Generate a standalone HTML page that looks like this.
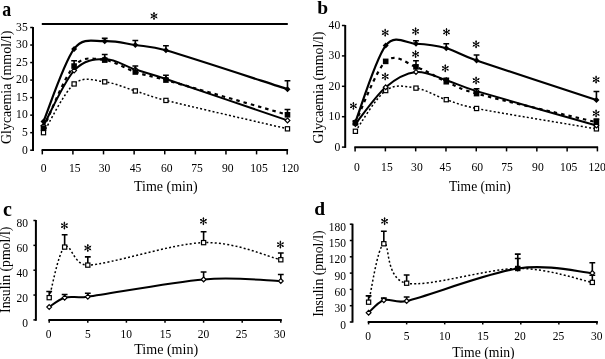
<!DOCTYPE html>
<html><head><meta charset="utf-8"><style>
html,body{margin:0;padding:0;background:#fff;overflow:hidden;}
svg{display:block;will-change:transform;filter:blur(0.3px);}
text{font-family:"Liberation Serif", serif;fill:#000;}
</style></head><body>
<svg width="605" height="359" viewBox="0 0 605 359">
<rect width="605" height="359" fill="#fff"/>
<path d="M33.00,27.10 L33.00,151.00" stroke="#000" stroke-width="2.0" fill="none"/>
<path d="M30.20,150.20 L33.00,150.20" stroke="#000" stroke-width="1.5" fill="none"/>
<text transform="translate(27.70,153.50) scale(1,1.03)" font-size="11.6" text-anchor="end">0</text>
<path d="M30.20,132.67 L33.00,132.67" stroke="#000" stroke-width="1.5" fill="none"/>
<text transform="translate(27.70,135.97) scale(1,1.03)" font-size="11.6" text-anchor="end">5</text>
<path d="M30.20,115.14 L33.00,115.14" stroke="#000" stroke-width="1.5" fill="none"/>
<text transform="translate(27.70,118.44) scale(1,1.03)" font-size="11.6" text-anchor="end">10</text>
<path d="M30.20,97.61 L33.00,97.61" stroke="#000" stroke-width="1.5" fill="none"/>
<text transform="translate(27.70,100.91) scale(1,1.03)" font-size="11.6" text-anchor="end">15</text>
<path d="M30.20,80.09 L33.00,80.09" stroke="#000" stroke-width="1.5" fill="none"/>
<text transform="translate(27.70,83.39) scale(1,1.03)" font-size="11.6" text-anchor="end">20</text>
<path d="M30.20,62.56 L33.00,62.56" stroke="#000" stroke-width="1.5" fill="none"/>
<text transform="translate(27.70,65.86) scale(1,1.03)" font-size="11.6" text-anchor="end">25</text>
<path d="M30.20,45.03 L33.00,45.03" stroke="#000" stroke-width="1.5" fill="none"/>
<text transform="translate(27.70,48.33) scale(1,1.03)" font-size="11.6" text-anchor="end">30</text>
<path d="M30.20,27.50 L33.00,27.50" stroke="#000" stroke-width="1.5" fill="none"/>
<text transform="translate(27.70,30.80) scale(1,1.03)" font-size="11.6" text-anchor="end">35</text>
<path d="M41.60,150.10 L288.10,150.10" stroke="#000" stroke-width="2.0" fill="none"/>
<path d="M42.30,150.10 L42.30,154.40" stroke="#000" stroke-width="1.5" fill="none"/>
<text transform="translate(43.70,171.90) scale(1,1.03)" font-size="11.6" text-anchor="middle">0</text>
<path d="M72.91,150.10 L72.91,154.40" stroke="#000" stroke-width="1.5" fill="none"/>
<text transform="translate(74.70,171.90) scale(1,1.03)" font-size="11.6" text-anchor="middle">15</text>
<path d="M103.52,150.10 L103.52,154.40" stroke="#000" stroke-width="1.5" fill="none"/>
<text transform="translate(104.60,171.90) scale(1,1.03)" font-size="11.6" text-anchor="middle">30</text>
<path d="M134.13,150.10 L134.13,154.40" stroke="#000" stroke-width="1.5" fill="none"/>
<text transform="translate(135.50,171.90) scale(1,1.03)" font-size="11.6" text-anchor="middle">45</text>
<path d="M164.74,150.10 L164.74,154.40" stroke="#000" stroke-width="1.5" fill="none"/>
<text transform="translate(166.80,171.90) scale(1,1.03)" font-size="11.6" text-anchor="middle">60</text>
<path d="M195.35,150.10 L195.35,154.40" stroke="#000" stroke-width="1.5" fill="none"/>
<text transform="translate(197.00,171.90) scale(1,1.03)" font-size="11.6" text-anchor="middle">75</text>
<path d="M225.96,150.10 L225.96,154.40" stroke="#000" stroke-width="1.5" fill="none"/>
<text transform="translate(227.80,171.90) scale(1,1.03)" font-size="11.6" text-anchor="middle">90</text>
<path d="M256.57,150.10 L256.57,154.40" stroke="#000" stroke-width="1.5" fill="none"/>
<text transform="translate(259.00,171.90) scale(1,1.03)" font-size="11.6" text-anchor="middle">105</text>
<path d="M287.18,150.10 L287.18,154.40" stroke="#000" stroke-width="1.5" fill="none"/>
<text transform="translate(290.30,171.90) scale(1,1.03)" font-size="11.6" text-anchor="middle">120</text>
<text x="134.02" y="191.20" font-size="13.97" text-anchor="start">Time (min)</text>
<text transform="translate(11.10,87.30) rotate(-90) scale(1,1.06)" font-size="13.95" text-anchor="middle">Glycaemia (mmol/l)</text>
<text transform="translate(2.3,15.9) scale(0.92,1.1)" font-size="19.5" font-weight="bold">a</text>
<path d="M41.80,23.90 L287.80,23.90" stroke="#000" stroke-width="2.0" fill="none"/>
<path d="M154.00,16.00 L154.00,12.50 M154.00,16.00 L157.03,14.25 M154.00,16.00 L157.03,17.75 M154.00,16.00 L154.00,19.50 M154.00,16.00 L150.97,14.25 M154.00,16.00 L150.97,17.75" stroke="#000" stroke-width="0.9" fill="none" stroke-linecap="round"/>
<circle cx="154.00" cy="13.40" r="0.85" fill="#000"/>
<circle cx="156.25" cy="14.70" r="0.85" fill="#000"/>
<circle cx="156.25" cy="17.30" r="0.85" fill="#000"/>
<circle cx="154.00" cy="18.60" r="0.85" fill="#000"/>
<circle cx="151.75" cy="14.70" r="0.85" fill="#000"/>
<circle cx="151.75" cy="17.30" r="0.85" fill="#000"/>
<path d="M43.50,132.67 C48.60,124.55 63.91,92.41 74.11,83.94 C84.31,75.47 94.52,80.67 104.72,81.84 C114.92,83.01 125.13,87.86 135.33,90.95 C145.53,94.05 150.39,96.55 165.94,100.42 C191.30,106.73 267.22,124.08 287.48,128.82" stroke="#000" stroke-width="1.5" fill="none" stroke-dasharray="2,2.2"/>
<path d="M43.50,125.66 C48.60,116.49 63.91,81.72 74.11,70.62 C84.31,59.52 94.52,59.23 104.72,59.05 C114.92,58.88 125.13,66.24 135.33,69.57 C145.53,72.90 150.75,73.96 165.94,79.03 C191.30,87.51 267.22,113.51 287.48,120.40" stroke="#000" stroke-width="2.0" fill="none"/>
<path d="M43.50,128.11 C48.60,117.77 63.91,77.40 74.11,66.06 C84.31,54.73 94.52,59.11 104.72,60.10 C114.92,61.10 125.13,68.69 135.33,72.02 C145.53,75.35 150.70,75.80 165.94,80.09 C191.30,87.21 267.22,109.01 287.48,114.79" stroke="#000" stroke-width="2.2" fill="none" stroke-dasharray="3.5,4"/>
<path d="M43.50,121.45 C48.60,109.36 63.91,62.27 74.11,48.88 C83.68,36.33 94.52,41.81 104.72,41.17 C114.92,40.53 125.13,43.51 135.33,45.03 C145.53,46.55 151.03,45.96 165.94,50.29 C191.30,57.65 267.22,82.72 287.48,89.20" stroke="#000" stroke-width="2.2" fill="none"/>
<rect x="41.40" y="130.57" width="4.20" height="4.20" fill="#fff" stroke="#000" stroke-width="1.2"/>
<rect x="72.01" y="81.84" width="4.20" height="4.20" fill="#fff" stroke="#000" stroke-width="1.2"/>
<rect x="102.62" y="79.74" width="4.20" height="4.20" fill="#fff" stroke="#000" stroke-width="1.2"/>
<rect x="133.23" y="88.85" width="4.20" height="4.20" fill="#fff" stroke="#000" stroke-width="1.2"/>
<rect x="163.84" y="98.32" width="4.20" height="4.20" fill="#fff" stroke="#000" stroke-width="1.2"/>
<rect x="285.38" y="126.72" width="4.20" height="4.20" fill="#fff" stroke="#000" stroke-width="1.2"/>
<path d="M43.50,123.26 L45.90,125.66 L43.50,128.06 L41.10,125.66Z" fill="#fff" stroke="#000" stroke-width="1.2"/>
<path d="M74.11,68.22 L76.51,70.62 L74.11,73.02 L71.71,70.62Z" fill="#fff" stroke="#000" stroke-width="1.2"/>
<path d="M104.72,56.65 L107.12,59.05 L104.72,61.45 L102.32,59.05Z" fill="#fff" stroke="#000" stroke-width="1.2"/>
<path d="M135.33,67.17 L137.73,69.57 L135.33,71.97 L132.93,69.57Z" fill="#fff" stroke="#000" stroke-width="1.2"/>
<path d="M165.94,76.63 L168.34,79.03 L165.94,81.43 L163.54,79.03Z" fill="#fff" stroke="#000" stroke-width="1.2"/>
<path d="M287.48,118.00 L289.88,120.40 L287.48,122.80 L285.08,120.40Z" fill="#fff" stroke="#000" stroke-width="1.2"/>
<rect x="40.70" y="125.31" width="5.60" height="5.60" fill="#000"/>
<path d="M74.11,66.06 L74.11,60.80 M71.21,60.80 L77.01,60.80" stroke="#000" stroke-width="1.6" fill="none"/>
<rect x="71.31" y="63.26" width="5.60" height="5.60" fill="#000"/>
<path d="M104.72,60.10 L104.72,54.49 M101.82,54.49 L107.62,54.49" stroke="#000" stroke-width="1.6" fill="none"/>
<rect x="101.92" y="57.30" width="5.60" height="5.60" fill="#000"/>
<path d="M135.33,72.02 L135.33,66.06 M132.43,66.06 L138.23,66.06" stroke="#000" stroke-width="1.6" fill="none"/>
<rect x="132.53" y="69.22" width="5.60" height="5.60" fill="#000"/>
<path d="M165.94,80.09 L165.94,75.18 M163.04,75.18 L168.84,75.18" stroke="#000" stroke-width="1.6" fill="none"/>
<rect x="163.14" y="77.29" width="5.60" height="5.60" fill="#000"/>
<path d="M287.48,114.79 L287.48,109.53 M284.58,109.53 L290.38,109.53" stroke="#000" stroke-width="1.6" fill="none"/>
<rect x="284.68" y="111.99" width="5.60" height="5.60" fill="#000"/>
<path d="M43.50,118.45 L46.50,121.45 L43.50,124.45 L40.50,121.45Z" fill="#000"/>
<path d="M74.11,45.88 L77.11,48.88 L74.11,51.88 L71.11,48.88Z" fill="#000"/>
<path d="M104.72,41.17 L104.72,38.37 M101.82,38.37 L107.62,38.37" stroke="#000" stroke-width="1.6" fill="none"/>
<path d="M104.72,38.17 L107.72,41.17 L104.72,44.17 L101.72,41.17Z" fill="#000"/>
<path d="M135.33,45.03 L135.33,40.47 M132.43,40.47 L138.23,40.47" stroke="#000" stroke-width="1.6" fill="none"/>
<path d="M135.33,42.03 L138.33,45.03 L135.33,48.03 L132.33,45.03Z" fill="#000"/>
<path d="M165.94,50.29 L165.94,45.73 M163.04,45.73 L168.84,45.73" stroke="#000" stroke-width="1.6" fill="none"/>
<path d="M165.94,47.29 L168.94,50.29 L165.94,53.29 L162.94,50.29Z" fill="#000"/>
<path d="M287.48,89.20 L287.48,80.79 M284.58,80.79 L290.38,80.79" stroke="#000" stroke-width="1.6" fill="none"/>
<path d="M287.48,86.20 L290.48,89.20 L287.48,92.20 L284.48,89.20Z" fill="#000"/>
<path d="M345.20,25.00 L345.20,147.90" stroke="#000" stroke-width="2.0" fill="none"/>
<path d="M341.90,147.10 L345.20,147.10" stroke="#000" stroke-width="1.5" fill="none"/>
<text transform="translate(340.20,150.50) scale(1,1.03)" font-size="11.6" text-anchor="end">0</text>
<path d="M341.90,116.70 L345.20,116.70" stroke="#000" stroke-width="1.5" fill="none"/>
<text transform="translate(340.20,120.10) scale(1,1.03)" font-size="11.6" text-anchor="end">10</text>
<path d="M341.90,86.30 L345.20,86.30" stroke="#000" stroke-width="1.5" fill="none"/>
<text transform="translate(340.20,89.70) scale(1,1.03)" font-size="11.6" text-anchor="end">20</text>
<path d="M341.90,55.90 L345.20,55.90" stroke="#000" stroke-width="1.5" fill="none"/>
<text transform="translate(340.20,59.30) scale(1,1.03)" font-size="11.6" text-anchor="end">30</text>
<path d="M341.90,25.50 L345.20,25.50" stroke="#000" stroke-width="1.5" fill="none"/>
<text transform="translate(340.20,28.90) scale(1,1.03)" font-size="11.6" text-anchor="end">40</text>
<path d="M354.30,147.30 L598.10,147.30" stroke="#000" stroke-width="2.0" fill="none"/>
<path d="M355.10,147.30 L355.10,151.40" stroke="#000" stroke-width="1.5" fill="none"/>
<text transform="translate(356.80,170.80) scale(1,1.03)" font-size="11.6" text-anchor="middle">0</text>
<path d="M385.39,147.30 L385.39,151.40" stroke="#000" stroke-width="1.5" fill="none"/>
<text transform="translate(386.90,170.80) scale(1,1.03)" font-size="11.6" text-anchor="middle">15</text>
<path d="M415.68,147.30 L415.68,151.40" stroke="#000" stroke-width="1.5" fill="none"/>
<text transform="translate(416.90,170.80) scale(1,1.03)" font-size="11.6" text-anchor="middle">30</text>
<path d="M445.97,147.30 L445.97,151.40" stroke="#000" stroke-width="1.5" fill="none"/>
<text transform="translate(445.40,170.80) scale(1,1.03)" font-size="11.6" text-anchor="middle">45</text>
<path d="M476.26,147.30 L476.26,151.40" stroke="#000" stroke-width="1.5" fill="none"/>
<text transform="translate(477.30,170.80) scale(1,1.03)" font-size="11.6" text-anchor="middle">60</text>
<path d="M506.55,147.30 L506.55,151.40" stroke="#000" stroke-width="1.5" fill="none"/>
<text transform="translate(507.00,170.80) scale(1,1.03)" font-size="11.6" text-anchor="middle">75</text>
<path d="M536.84,147.30 L536.84,151.40" stroke="#000" stroke-width="1.5" fill="none"/>
<text transform="translate(537.90,170.80) scale(1,1.03)" font-size="11.6" text-anchor="middle">90</text>
<path d="M567.13,147.30 L567.13,151.40" stroke="#000" stroke-width="1.5" fill="none"/>
<text transform="translate(568.60,170.80) scale(1,1.03)" font-size="11.6" text-anchor="middle">105</text>
<path d="M597.42,147.30 L597.42,151.40" stroke="#000" stroke-width="1.5" fill="none"/>
<text transform="translate(597.10,170.80) scale(1,1.03)" font-size="11.6" text-anchor="middle">120</text>
<text x="449.03" y="191.10" font-size="13.57" text-anchor="start">Time (min)</text>
<text transform="translate(323.40,87.55) rotate(-90) scale(1,1.06)" font-size="13.78" text-anchor="middle">Glycaemia (mmol/l)</text>
<text x="317.31" y="13.60" font-size="19.5" text-anchor="start" font-weight="bold">b</text>
<path d="M355.40,131.29 C360.45,124.50 375.59,97.75 385.69,90.56 C395.79,83.36 405.88,86.60 415.98,88.12 C426.08,89.64 436.17,96.28 446.27,99.68 C456.37,103.07 461.08,105.48 476.56,108.49 C501.59,113.36 576.44,125.47 596.42,128.86" stroke="#000" stroke-width="1.5" fill="none" stroke-dasharray="2,2.2"/>
<path d="M355.40,124.00 C360.45,117.87 375.59,95.88 385.69,87.21 C395.79,78.55 405.88,73.18 415.98,72.01 C426.08,70.85 436.17,77.03 446.27,80.22 C456.37,83.41 461.14,86.51 476.56,91.16 C501.59,98.71 576.44,119.79 596.42,125.52" stroke="#000" stroke-width="2.0" fill="none"/>
<path d="M355.40,122.78 C360.45,112.55 375.59,70.69 385.69,61.37 C395.79,52.05 405.88,63.45 415.98,66.84 C426.08,70.24 436.17,77.28 446.27,81.74 C456.37,86.20 460.86,89.37 476.56,93.60 C501.59,100.33 576.44,117.41 596.42,122.17" stroke="#000" stroke-width="2.2" fill="none" stroke-dasharray="3.5,4"/>
<path d="M355.40,121.87 C360.45,109.15 375.59,58.59 385.69,45.56 C394.99,33.57 405.88,43.28 415.98,43.74 C426.08,44.20 436.17,45.51 446.27,48.30 C456.37,51.09 461.13,55.15 476.56,60.46 C501.59,69.07 576.44,93.39 596.42,99.98" stroke="#000" stroke-width="2.2" fill="none"/>
<rect x="353.30" y="129.19" width="4.20" height="4.20" fill="#fff" stroke="#000" stroke-width="1.2"/>
<rect x="383.59" y="88.46" width="4.20" height="4.20" fill="#fff" stroke="#000" stroke-width="1.2"/>
<rect x="413.88" y="86.02" width="4.20" height="4.20" fill="#fff" stroke="#000" stroke-width="1.2"/>
<rect x="444.17" y="97.58" width="4.20" height="4.20" fill="#fff" stroke="#000" stroke-width="1.2"/>
<rect x="474.46" y="106.39" width="4.20" height="4.20" fill="#fff" stroke="#000" stroke-width="1.2"/>
<rect x="594.32" y="126.76" width="4.20" height="4.20" fill="#fff" stroke="#000" stroke-width="1.2"/>
<path d="M355.40,121.60 L357.80,124.00 L355.40,126.40 L353.00,124.00Z" fill="#fff" stroke="#000" stroke-width="1.2"/>
<path d="M385.69,84.81 L388.09,87.21 L385.69,89.61 L383.29,87.21Z" fill="#fff" stroke="#000" stroke-width="1.2"/>
<path d="M415.98,69.61 L418.38,72.01 L415.98,74.41 L413.58,72.01Z" fill="#fff" stroke="#000" stroke-width="1.2"/>
<path d="M446.27,77.82 L448.67,80.22 L446.27,82.62 L443.87,80.22Z" fill="#fff" stroke="#000" stroke-width="1.2"/>
<path d="M476.56,88.76 L478.96,91.16 L476.56,93.56 L474.16,91.16Z" fill="#fff" stroke="#000" stroke-width="1.2"/>
<path d="M596.42,123.12 L598.82,125.52 L596.42,127.92 L594.02,125.52Z" fill="#fff" stroke="#000" stroke-width="1.2"/>
<rect x="352.60" y="119.98" width="5.60" height="5.60" fill="#000"/>
<rect x="382.89" y="58.57" width="5.60" height="5.60" fill="#000"/>
<path d="M415.98,66.84 L415.98,60.76 M413.08,60.76 L418.88,60.76" stroke="#000" stroke-width="1.6" fill="none"/>
<rect x="413.18" y="64.04" width="5.60" height="5.60" fill="#000"/>
<path d="M446.27,81.74 L446.27,78.40 M443.37,78.40 L449.17,78.40" stroke="#000" stroke-width="1.6" fill="none"/>
<rect x="443.47" y="78.94" width="5.60" height="5.60" fill="#000"/>
<path d="M476.56,93.60 L476.56,88.73 M473.66,88.73 L479.46,88.73" stroke="#000" stroke-width="1.6" fill="none"/>
<rect x="473.76" y="90.80" width="5.60" height="5.60" fill="#000"/>
<path d="M596.42,122.17 L596.42,119.13 M593.52,119.13 L599.32,119.13" stroke="#000" stroke-width="1.6" fill="none"/>
<rect x="593.62" y="119.37" width="5.60" height="5.60" fill="#000"/>
<path d="M355.40,118.87 L358.40,121.87 L355.40,124.87 L352.40,121.87Z" fill="#000"/>
<path d="M385.69,42.56 L388.69,45.56 L385.69,48.56 L382.69,45.56Z" fill="#000"/>
<path d="M415.98,43.74 L415.98,40.70 M413.08,40.70 L418.88,40.70" stroke="#000" stroke-width="1.6" fill="none"/>
<path d="M415.98,40.74 L418.98,43.74 L415.98,46.74 L412.98,43.74Z" fill="#000"/>
<path d="M446.27,48.30 L446.27,43.74 M443.37,43.74 L449.17,43.74" stroke="#000" stroke-width="1.6" fill="none"/>
<path d="M446.27,45.30 L449.27,48.30 L446.27,51.30 L443.27,48.30Z" fill="#000"/>
<path d="M476.56,60.46 L476.56,54.99 M473.66,54.99 L479.46,54.99" stroke="#000" stroke-width="1.6" fill="none"/>
<path d="M476.56,57.46 L479.56,60.46 L476.56,63.46 L473.56,60.46Z" fill="#000"/>
<path d="M596.42,99.98 L596.42,91.47 M593.52,91.47 L599.32,91.47" stroke="#000" stroke-width="1.6" fill="none"/>
<path d="M596.42,96.98 L599.42,99.98 L596.42,102.98 L593.42,99.98Z" fill="#000"/>
<path d="M353.40,105.90 L353.40,102.40 M353.40,105.90 L356.43,104.15 M353.40,105.90 L356.43,107.65 M353.40,105.90 L353.40,109.40 M353.40,105.90 L350.37,104.15 M353.40,105.90 L350.37,107.65" stroke="#000" stroke-width="0.9" fill="none" stroke-linecap="round"/>
<circle cx="353.40" cy="103.30" r="0.85" fill="#000"/>
<circle cx="355.65" cy="104.60" r="0.85" fill="#000"/>
<circle cx="355.65" cy="107.20" r="0.85" fill="#000"/>
<circle cx="353.40" cy="108.50" r="0.85" fill="#000"/>
<circle cx="351.15" cy="104.60" r="0.85" fill="#000"/>
<circle cx="351.15" cy="107.20" r="0.85" fill="#000"/>
<path d="M385.20,32.70 L385.20,29.20 M385.20,32.70 L388.23,30.95 M385.20,32.70 L388.23,34.45 M385.20,32.70 L385.20,36.20 M385.20,32.70 L382.17,30.95 M385.20,32.70 L382.17,34.45" stroke="#000" stroke-width="0.9" fill="none" stroke-linecap="round"/>
<circle cx="385.20" cy="30.10" r="0.85" fill="#000"/>
<circle cx="387.45" cy="31.40" r="0.85" fill="#000"/>
<circle cx="387.45" cy="34.00" r="0.85" fill="#000"/>
<circle cx="385.20" cy="35.30" r="0.85" fill="#000"/>
<circle cx="382.95" cy="31.40" r="0.85" fill="#000"/>
<circle cx="382.95" cy="34.00" r="0.85" fill="#000"/>
<path d="M385.20,76.50 L385.20,73.00 M385.20,76.50 L388.23,74.75 M385.20,76.50 L388.23,78.25 M385.20,76.50 L385.20,80.00 M385.20,76.50 L382.17,74.75 M385.20,76.50 L382.17,78.25" stroke="#000" stroke-width="0.9" fill="none" stroke-linecap="round"/>
<circle cx="385.20" cy="73.90" r="0.85" fill="#000"/>
<circle cx="387.45" cy="75.20" r="0.85" fill="#000"/>
<circle cx="387.45" cy="77.80" r="0.85" fill="#000"/>
<circle cx="385.20" cy="79.10" r="0.85" fill="#000"/>
<circle cx="382.95" cy="75.20" r="0.85" fill="#000"/>
<circle cx="382.95" cy="77.80" r="0.85" fill="#000"/>
<path d="M415.60,31.30 L415.60,27.80 M415.60,31.30 L418.63,29.55 M415.60,31.30 L418.63,33.05 M415.60,31.30 L415.60,34.80 M415.60,31.30 L412.57,29.55 M415.60,31.30 L412.57,33.05" stroke="#000" stroke-width="0.9" fill="none" stroke-linecap="round"/>
<circle cx="415.60" cy="28.70" r="0.85" fill="#000"/>
<circle cx="417.85" cy="30.00" r="0.85" fill="#000"/>
<circle cx="417.85" cy="32.60" r="0.85" fill="#000"/>
<circle cx="415.60" cy="33.90" r="0.85" fill="#000"/>
<circle cx="413.35" cy="30.00" r="0.85" fill="#000"/>
<circle cx="413.35" cy="32.60" r="0.85" fill="#000"/>
<path d="M415.60,54.10 L415.60,50.60 M415.60,54.10 L418.63,52.35 M415.60,54.10 L418.63,55.85 M415.60,54.10 L415.60,57.60 M415.60,54.10 L412.57,52.35 M415.60,54.10 L412.57,55.85" stroke="#000" stroke-width="0.9" fill="none" stroke-linecap="round"/>
<circle cx="415.60" cy="51.50" r="0.85" fill="#000"/>
<circle cx="417.85" cy="52.80" r="0.85" fill="#000"/>
<circle cx="417.85" cy="55.40" r="0.85" fill="#000"/>
<circle cx="415.60" cy="56.70" r="0.85" fill="#000"/>
<circle cx="413.35" cy="52.80" r="0.85" fill="#000"/>
<circle cx="413.35" cy="55.40" r="0.85" fill="#000"/>
<path d="M446.50,32.00 L446.50,28.50 M446.50,32.00 L449.53,30.25 M446.50,32.00 L449.53,33.75 M446.50,32.00 L446.50,35.50 M446.50,32.00 L443.47,30.25 M446.50,32.00 L443.47,33.75" stroke="#000" stroke-width="0.9" fill="none" stroke-linecap="round"/>
<circle cx="446.50" cy="29.40" r="0.85" fill="#000"/>
<circle cx="448.75" cy="30.70" r="0.85" fill="#000"/>
<circle cx="448.75" cy="33.30" r="0.85" fill="#000"/>
<circle cx="446.50" cy="34.60" r="0.85" fill="#000"/>
<circle cx="444.25" cy="30.70" r="0.85" fill="#000"/>
<circle cx="444.25" cy="33.30" r="0.85" fill="#000"/>
<path d="M445.30,68.30 L445.30,64.80 M445.30,68.30 L448.33,66.55 M445.30,68.30 L448.33,70.05 M445.30,68.30 L445.30,71.80 M445.30,68.30 L442.27,66.55 M445.30,68.30 L442.27,70.05" stroke="#000" stroke-width="0.9" fill="none" stroke-linecap="round"/>
<circle cx="445.30" cy="65.70" r="0.85" fill="#000"/>
<circle cx="447.55" cy="67.00" r="0.85" fill="#000"/>
<circle cx="447.55" cy="69.60" r="0.85" fill="#000"/>
<circle cx="445.30" cy="70.90" r="0.85" fill="#000"/>
<circle cx="443.05" cy="67.00" r="0.85" fill="#000"/>
<circle cx="443.05" cy="69.60" r="0.85" fill="#000"/>
<path d="M476.10,44.30 L476.10,40.80 M476.10,44.30 L479.13,42.55 M476.10,44.30 L479.13,46.05 M476.10,44.30 L476.10,47.80 M476.10,44.30 L473.07,42.55 M476.10,44.30 L473.07,46.05" stroke="#000" stroke-width="0.9" fill="none" stroke-linecap="round"/>
<circle cx="476.10" cy="41.70" r="0.85" fill="#000"/>
<circle cx="478.35" cy="43.00" r="0.85" fill="#000"/>
<circle cx="478.35" cy="45.60" r="0.85" fill="#000"/>
<circle cx="476.10" cy="46.90" r="0.85" fill="#000"/>
<circle cx="473.85" cy="43.00" r="0.85" fill="#000"/>
<circle cx="473.85" cy="45.60" r="0.85" fill="#000"/>
<path d="M476.10,80.50 L476.10,77.00 M476.10,80.50 L479.13,78.75 M476.10,80.50 L479.13,82.25 M476.10,80.50 L476.10,84.00 M476.10,80.50 L473.07,78.75 M476.10,80.50 L473.07,82.25" stroke="#000" stroke-width="0.9" fill="none" stroke-linecap="round"/>
<circle cx="476.10" cy="77.90" r="0.85" fill="#000"/>
<circle cx="478.35" cy="79.20" r="0.85" fill="#000"/>
<circle cx="478.35" cy="81.80" r="0.85" fill="#000"/>
<circle cx="476.10" cy="83.10" r="0.85" fill="#000"/>
<circle cx="473.85" cy="79.20" r="0.85" fill="#000"/>
<circle cx="473.85" cy="81.80" r="0.85" fill="#000"/>
<path d="M596.10,79.60 L596.10,76.10 M596.10,79.60 L599.13,77.85 M596.10,79.60 L599.13,81.35 M596.10,79.60 L596.10,83.10 M596.10,79.60 L593.07,77.85 M596.10,79.60 L593.07,81.35" stroke="#000" stroke-width="0.9" fill="none" stroke-linecap="round"/>
<circle cx="596.10" cy="77.00" r="0.85" fill="#000"/>
<circle cx="598.35" cy="78.30" r="0.85" fill="#000"/>
<circle cx="598.35" cy="80.90" r="0.85" fill="#000"/>
<circle cx="596.10" cy="82.20" r="0.85" fill="#000"/>
<circle cx="593.85" cy="78.30" r="0.85" fill="#000"/>
<circle cx="593.85" cy="80.90" r="0.85" fill="#000"/>
<path d="M596.10,113.40 L596.10,109.90 M596.10,113.40 L599.13,111.65 M596.10,113.40 L599.13,115.15 M596.10,113.40 L596.10,116.90 M596.10,113.40 L593.07,111.65 M596.10,113.40 L593.07,115.15" stroke="#000" stroke-width="0.9" fill="none" stroke-linecap="round"/>
<circle cx="596.10" cy="110.80" r="0.85" fill="#000"/>
<circle cx="598.35" cy="112.10" r="0.85" fill="#000"/>
<circle cx="598.35" cy="114.70" r="0.85" fill="#000"/>
<circle cx="596.10" cy="116.00" r="0.85" fill="#000"/>
<circle cx="593.85" cy="112.10" r="0.85" fill="#000"/>
<circle cx="593.85" cy="114.70" r="0.85" fill="#000"/>
<path d="M35.90,220.00 L35.90,320.80" stroke="#000" stroke-width="2.0" fill="none"/>
<path d="M33.40,319.90 L35.90,319.90" stroke="#000" stroke-width="1.5" fill="none"/>
<text transform="translate(28.05,326.50) scale(1,1.06)" font-size="11.5" text-anchor="end">0</text>
<path d="M33.40,295.05 L35.90,295.05" stroke="#000" stroke-width="1.5" fill="none"/>
<text transform="translate(28.05,301.50) scale(1,1.06)" font-size="11.5" text-anchor="end">20</text>
<path d="M33.40,270.20 L35.90,270.20" stroke="#000" stroke-width="1.5" fill="none"/>
<text transform="translate(28.05,276.50) scale(1,1.06)" font-size="11.5" text-anchor="end">40</text>
<path d="M33.40,245.35 L35.90,245.35" stroke="#000" stroke-width="1.5" fill="none"/>
<text transform="translate(28.05,251.50) scale(1,1.06)" font-size="11.5" text-anchor="end">60</text>
<path d="M33.40,220.50 L35.90,220.50" stroke="#000" stroke-width="1.5" fill="none"/>
<text transform="translate(28.05,226.50) scale(1,1.06)" font-size="11.5" text-anchor="end">80</text>
<path d="M48.40,320.00 L281.80,320.00" stroke="#000" stroke-width="2.0" fill="none"/>
<path d="M49.20,320.00 L49.20,322.70" stroke="#000" stroke-width="1.5" fill="none"/>
<text transform="translate(48.70,337.80) scale(1,1.06)" font-size="11.5" text-anchor="middle">0</text>
<path d="M87.80,320.00 L87.80,322.70" stroke="#000" stroke-width="1.5" fill="none"/>
<text transform="translate(87.80,337.80) scale(1,1.06)" font-size="11.5" text-anchor="middle">5</text>
<path d="M126.40,320.00 L126.40,322.70" stroke="#000" stroke-width="1.5" fill="none"/>
<text transform="translate(126.20,337.80) scale(1,1.06)" font-size="11.5" text-anchor="middle">10</text>
<path d="M165.00,320.00 L165.00,322.70" stroke="#000" stroke-width="1.5" fill="none"/>
<text transform="translate(165.40,337.80) scale(1,1.06)" font-size="11.5" text-anchor="middle">15</text>
<path d="M203.60,320.00 L203.60,322.70" stroke="#000" stroke-width="1.5" fill="none"/>
<text transform="translate(203.50,337.80) scale(1,1.06)" font-size="11.5" text-anchor="middle">20</text>
<path d="M242.20,320.00 L242.20,322.70" stroke="#000" stroke-width="1.5" fill="none"/>
<text transform="translate(241.40,337.80) scale(1,1.06)" font-size="11.5" text-anchor="middle">25</text>
<path d="M280.80,320.00 L280.80,322.70" stroke="#000" stroke-width="1.5" fill="none"/>
<text transform="translate(279.80,337.80) scale(1,1.06)" font-size="11.5" text-anchor="middle">30</text>
<text x="134.22" y="354.00" font-size="14.06" text-anchor="start">Time (min)</text>
<text transform="translate(9.50,269.75) rotate(-90) scale(1,1.04)" font-size="13.7" text-anchor="middle">Insulin (pmol/l)</text>
<text x="3.10" y="216.00" font-size="20" text-anchor="start" font-weight="bold">c</text>
<path d="M49.20,297.66 C51.77,289.23 58.21,252.52 64.64,247.09 C71.07,241.66 73.14,265.58 87.80,265.11 C110.96,264.36 171.43,243.51 203.60,242.62 C235.77,241.73 267.93,256.91 280.80,259.76" stroke="#000" stroke-width="1.5" fill="none" stroke-dasharray="2,2.2"/>
<path d="M49.20,307.10 C51.77,305.53 58.21,299.40 64.64,297.66 C71.07,295.92 76.31,298.18 87.80,296.67 C110.96,293.62 171.43,282.00 203.60,279.39 C235.77,276.79 267.93,280.74 280.80,281.01" stroke="#000" stroke-width="2.0" fill="none"/>
<path d="M49.20,297.66 L49.20,291.45 M46.30,291.45 L52.10,291.45" stroke="#000" stroke-width="1.6" fill="none"/>
<rect x="47.10" y="295.56" width="4.20" height="4.20" fill="#fff" stroke="#000" stroke-width="1.2"/>
<path d="M64.64,247.09 L64.64,234.79 M61.74,234.79 L67.54,234.79" stroke="#000" stroke-width="1.6" fill="none"/>
<rect x="62.54" y="244.99" width="4.20" height="4.20" fill="#fff" stroke="#000" stroke-width="1.2"/>
<path d="M87.80,265.11 L87.80,256.91 M84.90,256.91 L90.70,256.91" stroke="#000" stroke-width="1.6" fill="none"/>
<rect x="85.70" y="263.01" width="4.20" height="4.20" fill="#fff" stroke="#000" stroke-width="1.2"/>
<path d="M203.60,242.62 L203.60,231.81 M200.70,231.81 L206.50,231.81" stroke="#000" stroke-width="1.6" fill="none"/>
<rect x="201.50" y="240.52" width="4.20" height="4.20" fill="#fff" stroke="#000" stroke-width="1.2"/>
<path d="M280.80,259.76 L280.80,253.05 M277.90,253.05 L283.70,253.05" stroke="#000" stroke-width="1.6" fill="none"/>
<rect x="278.70" y="257.66" width="4.20" height="4.20" fill="#fff" stroke="#000" stroke-width="1.2"/>
<path d="M49.20,304.70 L51.60,307.10 L49.20,309.50 L46.80,307.10Z" fill="#fff" stroke="#000" stroke-width="1.2"/>
<path d="M64.64,297.66 L64.64,294.55 M61.74,294.55 L67.54,294.55" stroke="#000" stroke-width="1.6" fill="none"/>
<path d="M64.64,295.26 L67.04,297.66 L64.64,300.06 L62.24,297.66Z" fill="#fff" stroke="#000" stroke-width="1.2"/>
<path d="M87.80,296.67 L87.80,293.19 M84.90,293.19 L90.70,293.19" stroke="#000" stroke-width="1.6" fill="none"/>
<path d="M87.80,294.27 L90.20,296.67 L87.80,299.07 L85.40,296.67Z" fill="#fff" stroke="#000" stroke-width="1.2"/>
<path d="M203.60,279.39 L203.60,272.06 M200.70,272.06 L206.50,272.06" stroke="#000" stroke-width="1.6" fill="none"/>
<path d="M203.60,276.99 L206.00,279.39 L203.60,281.79 L201.20,279.39Z" fill="#fff" stroke="#000" stroke-width="1.2"/>
<path d="M280.80,281.01 L280.80,274.55 M277.90,274.55 L283.70,274.55" stroke="#000" stroke-width="1.6" fill="none"/>
<path d="M280.80,278.61 L283.20,281.01 L280.80,283.41 L278.40,281.01Z" fill="#fff" stroke="#000" stroke-width="1.2"/>
<path d="M64.40,225.60 L64.40,222.10 M64.40,225.60 L67.43,223.85 M64.40,225.60 L67.43,227.35 M64.40,225.60 L64.40,229.10 M64.40,225.60 L61.37,223.85 M64.40,225.60 L61.37,227.35" stroke="#000" stroke-width="0.9" fill="none" stroke-linecap="round"/>
<circle cx="64.40" cy="223.00" r="0.85" fill="#000"/>
<circle cx="66.65" cy="224.30" r="0.85" fill="#000"/>
<circle cx="66.65" cy="226.90" r="0.85" fill="#000"/>
<circle cx="64.40" cy="228.20" r="0.85" fill="#000"/>
<circle cx="62.15" cy="224.30" r="0.85" fill="#000"/>
<circle cx="62.15" cy="226.90" r="0.85" fill="#000"/>
<path d="M87.80,248.00 L87.80,244.50 M87.80,248.00 L90.83,246.25 M87.80,248.00 L90.83,249.75 M87.80,248.00 L87.80,251.50 M87.80,248.00 L84.77,246.25 M87.80,248.00 L84.77,249.75" stroke="#000" stroke-width="0.9" fill="none" stroke-linecap="round"/>
<circle cx="87.80" cy="245.40" r="0.85" fill="#000"/>
<circle cx="90.05" cy="246.70" r="0.85" fill="#000"/>
<circle cx="90.05" cy="249.30" r="0.85" fill="#000"/>
<circle cx="87.80" cy="250.60" r="0.85" fill="#000"/>
<circle cx="85.55" cy="246.70" r="0.85" fill="#000"/>
<circle cx="85.55" cy="249.30" r="0.85" fill="#000"/>
<path d="M203.40,221.20 L203.40,217.70 M203.40,221.20 L206.43,219.45 M203.40,221.20 L206.43,222.95 M203.40,221.20 L203.40,224.70 M203.40,221.20 L200.37,219.45 M203.40,221.20 L200.37,222.95" stroke="#000" stroke-width="0.9" fill="none" stroke-linecap="round"/>
<circle cx="203.40" cy="218.60" r="0.85" fill="#000"/>
<circle cx="205.65" cy="219.90" r="0.85" fill="#000"/>
<circle cx="205.65" cy="222.50" r="0.85" fill="#000"/>
<circle cx="203.40" cy="223.80" r="0.85" fill="#000"/>
<circle cx="201.15" cy="219.90" r="0.85" fill="#000"/>
<circle cx="201.15" cy="222.50" r="0.85" fill="#000"/>
<path d="M280.40,244.60 L280.40,241.10 M280.40,244.60 L283.43,242.85 M280.40,244.60 L283.43,246.35 M280.40,244.60 L280.40,248.10 M280.40,244.60 L277.37,242.85 M280.40,244.60 L277.37,246.35" stroke="#000" stroke-width="0.9" fill="none" stroke-linecap="round"/>
<circle cx="280.40" cy="242.00" r="0.85" fill="#000"/>
<circle cx="282.65" cy="243.30" r="0.85" fill="#000"/>
<circle cx="282.65" cy="245.90" r="0.85" fill="#000"/>
<circle cx="280.40" cy="247.20" r="0.85" fill="#000"/>
<circle cx="278.15" cy="243.30" r="0.85" fill="#000"/>
<circle cx="278.15" cy="245.90" r="0.85" fill="#000"/>
<path d="M352.50,223.70 L352.50,322.60" stroke="#000" stroke-width="2.0" fill="none"/>
<path d="M349.80,322.00 L352.50,322.00" stroke="#000" stroke-width="1.5" fill="none"/>
<text transform="translate(345.90,328.60) scale(1,1.06)" font-size="11.5" text-anchor="end">0</text>
<path d="M349.80,305.70 L352.50,305.70" stroke="#000" stroke-width="1.5" fill="none"/>
<text transform="translate(345.90,312.30) scale(1,1.06)" font-size="11.5" text-anchor="end">30</text>
<path d="M349.80,289.40 L352.50,289.40" stroke="#000" stroke-width="1.5" fill="none"/>
<text transform="translate(345.90,296.00) scale(1,1.06)" font-size="11.5" text-anchor="end">60</text>
<path d="M349.80,273.10 L352.50,273.10" stroke="#000" stroke-width="1.5" fill="none"/>
<text transform="translate(345.90,279.70) scale(1,1.06)" font-size="11.5" text-anchor="end">90</text>
<path d="M349.80,256.80 L352.50,256.80" stroke="#000" stroke-width="1.5" fill="none"/>
<text transform="translate(345.90,263.40) scale(1,1.06)" font-size="11.5" text-anchor="end">120</text>
<path d="M349.80,240.50 L352.50,240.50" stroke="#000" stroke-width="1.5" fill="none"/>
<text transform="translate(345.90,247.10) scale(1,1.06)" font-size="11.5" text-anchor="end">150</text>
<path d="M349.80,224.20 L352.50,224.20" stroke="#000" stroke-width="1.5" fill="none"/>
<text transform="translate(345.90,230.80) scale(1,1.06)" font-size="11.5" text-anchor="end">180</text>
<path d="M367.70,322.00 L597.90,322.00" stroke="#000" stroke-width="2.0" fill="none"/>
<path d="M368.60,322.00 L368.60,324.40" stroke="#000" stroke-width="1.5" fill="none"/>
<text transform="translate(368.10,339.80) scale(1,1.06)" font-size="11.5" text-anchor="middle">0</text>
<path d="M406.65,322.00 L406.65,324.40" stroke="#000" stroke-width="1.5" fill="none"/>
<text transform="translate(406.60,339.80) scale(1,1.06)" font-size="11.5" text-anchor="middle">5</text>
<path d="M444.70,322.00 L444.70,324.40" stroke="#000" stroke-width="1.5" fill="none"/>
<text transform="translate(444.80,339.80) scale(1,1.06)" font-size="11.5" text-anchor="middle">10</text>
<path d="M482.75,322.00 L482.75,324.40" stroke="#000" stroke-width="1.5" fill="none"/>
<text transform="translate(483.00,339.80) scale(1,1.06)" font-size="11.5" text-anchor="middle">15</text>
<path d="M520.80,322.00 L520.80,324.40" stroke="#000" stroke-width="1.5" fill="none"/>
<text transform="translate(520.10,339.80) scale(1,1.06)" font-size="11.5" text-anchor="middle">20</text>
<path d="M558.85,322.00 L558.85,324.40" stroke="#000" stroke-width="1.5" fill="none"/>
<text transform="translate(558.50,339.80) scale(1,1.06)" font-size="11.5" text-anchor="middle">25</text>
<path d="M596.90,322.00 L596.90,324.40" stroke="#000" stroke-width="1.5" fill="none"/>
<text transform="translate(596.70,339.80) scale(1,1.06)" font-size="11.5" text-anchor="middle">30</text>
<text x="452.33" y="357.20" font-size="13.71" text-anchor="start">Time (min)</text>
<text transform="translate(323.00,273.60) rotate(-90) scale(1,1.06)" font-size="13.73" text-anchor="middle">Insulin (pmol/l)</text>
<text x="314.22" y="215.40" font-size="19.5" text-anchor="start" font-weight="bold">d</text>
<path d="M368.60,302.17 C371.14,292.43 377.48,246.92 383.82,243.76 C390.16,240.60 384.33,279.09 406.65,283.21 C428.97,287.33 486.81,268.62 517.76,268.48 C548.70,268.35 579.90,280.07 592.33,282.39" stroke="#000" stroke-width="1.5" fill="none" stroke-dasharray="2,2.2"/>
<path d="M368.60,312.65 C371.14,310.57 377.48,302.10 383.82,300.16 C390.16,298.21 395.53,303.60 406.65,300.97 C428.97,295.69 486.81,273.13 517.76,268.48 C548.70,263.84 579.90,272.33 592.33,273.10" stroke="#000" stroke-width="2.1" fill="none"/>
<path d="M368.60,302.17 L368.60,295.92 M365.70,295.92 L371.50,295.92" stroke="#000" stroke-width="1.6" fill="none"/>
<rect x="366.50" y="300.07" width="4.20" height="4.20" fill="#fff" stroke="#000" stroke-width="1.2"/>
<path d="M383.82,243.76 L383.82,231.26 M380.92,231.26 L386.72,231.26" stroke="#000" stroke-width="1.6" fill="none"/>
<rect x="381.72" y="241.66" width="4.20" height="4.20" fill="#fff" stroke="#000" stroke-width="1.2"/>
<path d="M406.65,283.21 L406.65,275.00 M403.75,275.00 L409.55,275.00" stroke="#000" stroke-width="1.6" fill="none"/>
<rect x="404.55" y="281.11" width="4.20" height="4.20" fill="#fff" stroke="#000" stroke-width="1.2"/>
<path d="M517.76,268.48 L517.76,258.43 M514.86,258.43 L520.66,258.43" stroke="#000" stroke-width="1.6" fill="none"/>
<rect x="515.66" y="266.38" width="4.20" height="4.20" fill="#fff" stroke="#000" stroke-width="1.2"/>
<path d="M592.33,282.39 L592.33,275.27 M589.43,275.27 L595.23,275.27" stroke="#000" stroke-width="1.6" fill="none"/>
<rect x="590.23" y="280.29" width="4.20" height="4.20" fill="#fff" stroke="#000" stroke-width="1.2"/>
<path d="M368.60,310.25 L371.00,312.65 L368.60,315.05 L366.20,312.65Z" fill="#fff" stroke="#000" stroke-width="1.2"/>
<path d="M383.82,300.16 L383.82,298.09 M380.92,298.09 L386.72,298.09" stroke="#000" stroke-width="1.6" fill="none"/>
<path d="M383.82,297.76 L386.22,300.16 L383.82,302.56 L381.42,300.16Z" fill="#fff" stroke="#000" stroke-width="1.2"/>
<path d="M406.65,300.97 L406.65,297.01 M403.75,297.01 L409.55,297.01" stroke="#000" stroke-width="1.6" fill="none"/>
<path d="M406.65,298.57 L409.05,300.97 L406.65,303.37 L404.25,300.97Z" fill="#fff" stroke="#000" stroke-width="1.2"/>
<path d="M517.76,268.48 L517.76,254.08 M514.86,254.08 L520.66,254.08" stroke="#000" stroke-width="1.6" fill="none"/>
<path d="M517.76,266.08 L520.16,268.48 L517.76,270.88 L515.36,268.48Z" fill="#fff" stroke="#000" stroke-width="1.2"/>
<path d="M592.33,273.10 L592.33,262.78 M589.43,262.78 L595.23,262.78" stroke="#000" stroke-width="1.6" fill="none"/>
<path d="M592.33,270.70 L594.73,273.10 L592.33,275.50 L589.93,273.10Z" fill="#fff" stroke="#000" stroke-width="1.2"/>
<path d="M384.60,221.20 L384.60,217.70 M384.60,221.20 L387.63,219.45 M384.60,221.20 L387.63,222.95 M384.60,221.20 L384.60,224.70 M384.60,221.20 L381.57,219.45 M384.60,221.20 L381.57,222.95" stroke="#000" stroke-width="0.9" fill="none" stroke-linecap="round"/>
<circle cx="384.60" cy="218.60" r="0.85" fill="#000"/>
<circle cx="386.85" cy="219.90" r="0.85" fill="#000"/>
<circle cx="386.85" cy="222.50" r="0.85" fill="#000"/>
<circle cx="384.60" cy="223.80" r="0.85" fill="#000"/>
<circle cx="382.35" cy="219.90" r="0.85" fill="#000"/>
<circle cx="382.35" cy="222.50" r="0.85" fill="#000"/>
<rect x="515.46" y="266.18" width="4.60" height="4.60" fill="#000"/>
</svg>
</body></html>
